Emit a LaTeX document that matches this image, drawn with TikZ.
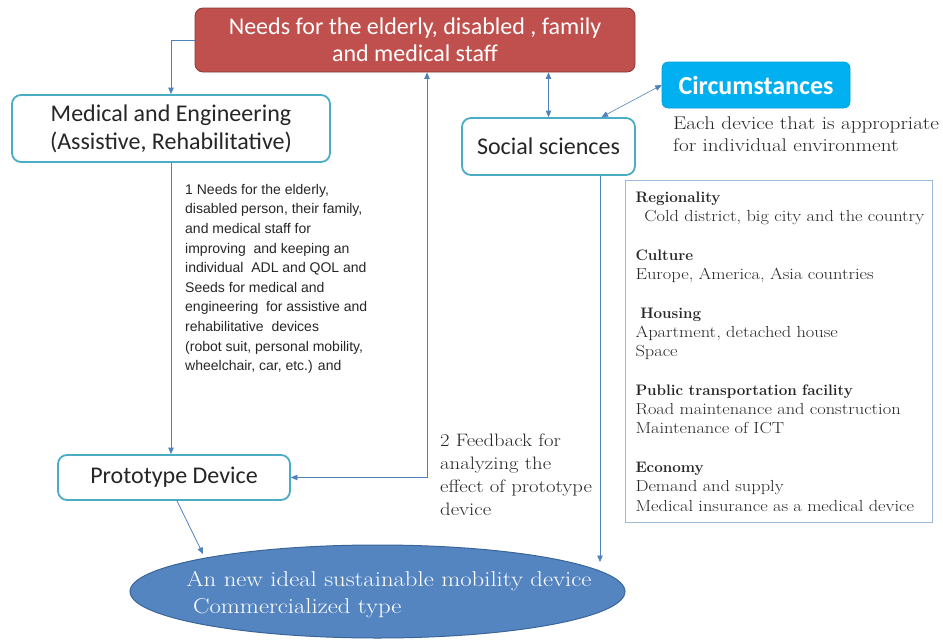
\documentclass[tikz,border=0pt]{standalone}
\usepackage{fontspec}
\usepackage{tikz}
\usetikzlibrary{arrows.meta,shapes.geometric}
\newfontfamily\calfont{Carlito}
\newfontfamily\arialfont{Liberation Sans}
\newfontfamily\widerm[FakeStretch=1.15]{Latin Modern Roman}
\definecolor{needred}{HTML}{C0504D}
\definecolor{neededge}{HTML}{8C3836}
\definecolor{boxteal}{HTML}{4BACC6}
\definecolor{circblue}{HTML}{00B0F0}
\definecolor{linkblue}{HTML}{4F81BD}
\definecolor{goalblue}{HTML}{5585C0}
\definecolor{goaledge}{HTML}{3A6598}
\definecolor{infoedge}{HTML}{9BBBD9}
\definecolor{txtgray}{HTML}{262626}
\newcommand{\fs}[2]{\fontsize{#1}{#2}\selectfont}
\newcommand{\head}[1]{{\normalfont\bfseries\fs{15.2}{19.3}#1}}

\begin{document}
\begin{tikzpicture}[x=1pt, y=-1pt,
  stagebox/.style={draw=boxteal, line width=1.8pt, rounded corners=9pt, fill=white,
    text=txtgray, font=\calfont\fs{24}{28}, align=center, inner sep=0pt},
  link/.style={draw=linkblue, line width=0.8pt},
  onetip/.style={-{Triangle[length=6.5pt,width=5.5pt]}},
  twotips/.style={{Triangle[length=6.5pt,width=5.5pt]}-{Triangle[length=6.5pt,width=5.5pt]}},
  note/.style={anchor=north west, align=left, inner sep=0pt, text=txtgray}]
  \useasboundingbox (0,0) rectangle (943,640);

  \node[fill=needred, draw=neededge, line width=0.8pt, rounded corners=8pt,
    minimum width=440, minimum height=64, text=white, font=\calfont\fs{24}{27},
    align=center] (needs) at (415,40) {Needs for the elderly, disabled , family\\and medical staff};
  \node[stagebox, minimum width=318, minimum height=67] (med) at (171,128.5)
    {Medical and Engineering\\(Assistive, Rehabilitative)};
  \node[stagebox, minimum width=173, minimum height=57] (social) at (548.5,146.5) {Social sciences};
  \node[stagebox, minimum width=232, minimum height=45] (proto) at (174,477.5) {Prototype Device};
  \node[fill=circblue, draw=circblue!90!black, line width=0.6pt, rounded corners=6pt,
    minimum width=188, minimum height=46, text=white, font=\calfont\bfseries\fs{26}{28}]
    (circ) at (756,85) {Circumstances};

  \node[note, font=\widerm\fs{18.4}{22}] (circnote) at (673,117)
    {Each device that is appropriate\\for individual environment};
  \node[note, font=\arialfont\fs{14}{19.6}] (needtext) at (185,184)
    {1 Needs for the elderly,\\disabled person, their family,\\and medical staff for\\
     improving\ \ and keeping an\\individual\ \ ADL and QOL and\\Seeds for medical and\\
     engineering\ \ for assistive and\\rehabilitative\ \ devices\\
     (robot suit, personal mobility,\\wheelchair, car, etc.) and};
  \node[note, font=\widerm\fs{18}{23}] (fbtext) at (440,434)
    {2 Feedback for\\analyzing the\\effect of prototype\\device};

  % the list of surroundings sits in a plain framed box, one blank line per group;
  % the long lines are boxed so they run to the frame instead of wrapping
  \node[draw=infoedge, line width=1pt, anchor=north west, minimum width=307,
    minimum height=342, text width=287, align=left, inner xsep=10pt,
    text=txtgray, font=\widerm\fs{16}{19.3}] (info) at (625,180)
    {\head{Regionality}\\
     \mbox{\hspace*{0.55em}Cold district, big city and the country}\\[19.3pt]
     \head{Culture}\\
     Europe, America, Asia countries\\[19.3pt]
     \hspace*{0.3em}\head{Housing}\\
     Apartment, detached house\\
     Space\\[19.3pt]
     \head{Public transportation facility}\\
     Road maintenance and construction\\
     Maintenance of ICT\\[19.3pt]
     \head{Economy}\\
     Demand and supply\\
     \mbox{Medical insurance as a medical device}};

  \node[ellipse, fill=goalblue, draw=goaledge, line width=1pt, minimum width=495,
    minimum height=93, inner sep=0pt] (goal) at (377.5,591.5) {};
  \node[text=white, align=left, inner sep=0pt, font=\widerm\fs{21.5}{27}] (goaltext) at (389,595)
    {An new ideal sustainable mobility device\\\hspace*{0.3em}Commercialized type};

  \coordinate (fb) at (427,477.5);
  \coordinate (sdrop) at (600,562);
  \coordinate (gin) at (203,554);

  \draw[link, onetip] (needs.west) -| (med.north);
  \draw[link, onetip] (med.south) -- (med.south |- proto.north);
  \draw[link, twotips] (proto.east) -- (fb) -- (fb |- needs.south);
  \draw[link, twotips] (social.north) -- (social.north |- needs.south);
  \draw[link, twotips, line width=0.6pt] ([xshift=53pt]social.north) -- (circ.west);
  \draw[link, onetip] (social.south -| sdrop) -- (sdrop);
  \draw[link, onetip] ([xshift=3pt]proto.south) -- (gin);
\end{tikzpicture}
\end{document}
